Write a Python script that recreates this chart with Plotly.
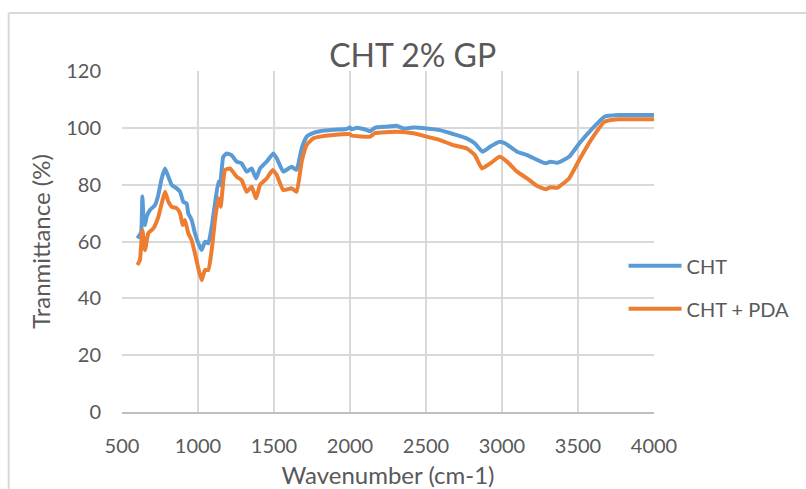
import plotly.graph_objects as go

# FTIR spectra: wavenumber (cm-1) and transmittance (%)
cht_wavenumber = [601, 625, 634, 642, 651, 662, 684, 717, 739, 761, 783, 805, 827, 860, 882,
                  903, 925, 936, 958, 980, 1002, 1024, 1046, 1068, 1090, 1112, 1134, 1145,
                  1166, 1189, 1221, 1254, 1287, 1320, 1353, 1382, 1408, 1452, 1495, 1518,
                  1561, 1616, 1649, 1682, 1715, 1760, 1803, 1890, 1978, 2000, 2010, 2044,
                  2100, 2132, 2164, 2241, 2307, 2351, 2417, 2504, 2592, 2680, 2767, 2822,
                  2872, 2923, 2985, 3022, 3099, 3165, 3232, 3287, 3320, 3364, 3441, 3508,
                  3585, 3674, 3762, 4000]
cht_transmittance = [61.1, 63.0, 75.8, 68.0, 65.8, 68.7, 71.1, 72.8, 76.4, 82.2, 85.7, 82.8,
                     79.9, 78.7, 77.5, 74.0, 73.4, 69.9, 67.6, 62.9, 59.4, 57.0, 59.9, 59.4,
                     65.2, 73.4, 81.0, 79.9, 89.8, 91.0, 90.4, 88.1, 87.5, 84.6, 85.7, 82.2,
                     85.7, 88.1, 91.0, 89.3, 84.6, 86.3, 85.2, 92.8, 96.9, 98.2, 98.8, 99.3,
                     99.6, 100.1, 99.5, 100.0, 99.4, 98.8, 100.0, 100.4, 100.7, 99.8, 100.1,
                     99.8, 99.2, 97.8, 96.3, 94.5, 91.6, 93.4, 95.1, 94.5, 91.6, 90.4, 88.7,
                     87.5, 88.1, 87.7, 89.8, 94.5, 99.2, 103.9, 104.5, 104.5]

pda_wavenumber = [601, 618, 634, 651, 673, 706, 739, 761, 783, 805, 827, 860, 882, 899, 914,
                  936, 958, 980, 1002, 1024, 1046, 1068, 1090, 1112, 1134, 1149, 1178, 1211,
                  1254, 1287, 1320, 1353, 1382, 1408, 1452, 1491, 1518, 1561, 1616, 1649,
                  1682, 1715, 1759, 1803, 1890, 2000, 2010, 2132, 2164, 2307, 2417, 2504,
                  2592, 2680, 2767, 2822, 2868, 2923, 2985, 3033, 3099, 3165, 3232, 3287,
                  3320, 3364, 3441, 3508, 3585, 3674, 3762, 4000]
pda_transmittance = [51.7, 53.5, 64.0, 57.0, 62.9, 64.6, 68.7, 73.4, 77.5, 74.0, 72.2, 71.7,
                     69.9, 65.8, 67.6, 62.9, 60.5, 55.8, 50.6, 46.4, 50.0, 50.0, 57.0, 67.6,
                     75.2, 72.2, 85.2, 85.7, 82.8, 81.6, 77.5, 79.3, 75.2, 79.9, 82.2, 85.2,
                     83.4, 78.1, 78.7, 77.5, 88.1, 94.0, 96.3, 96.9, 97.5, 97.8, 97.3, 96.9,
                     98.1, 98.6, 98.1, 96.9, 95.7, 93.9, 92.8, 90.4, 85.7, 87.5, 89.8, 88.1,
                     84.6, 82.2, 79.5, 78.4, 79.1, 78.9, 82.2, 88.7, 95.7, 102.1, 103.0, 103.0]

series_names = ["CHT", "CHT + PDA"]
x_ticks = [500, 1000, 1500, 2000, 2500, 3000, 3500, 4000]
y_ticks = [0, 20, 40, 60, 80, 100, 120]

FONT = "Lato"
TEXT = "#595959"
GRID = "#d9d9d9"

fig = go.Figure()
fig.add_trace(go.Scatter(x=cht_wavenumber, y=cht_transmittance, mode="lines",
                         name=series_names[0], legendgroup="a",
                         line=dict(color="#5B9BD5", width=4, shape="spline", smoothing=0.4)))
fig.add_trace(go.Scatter(x=pda_wavenumber, y=pda_transmittance, mode="lines",
                         name=series_names[1], legendgroup="b",
                         line=dict(color="#ED7D31", width=4, shape="spline", smoothing=0.4)))

# outer chart border (left and top edges)
fig.add_shape(type="line", xref="paper", yref="paper", x0=-0.213, x1=-0.213, y0=1.17, y1=-0.3,
              line=dict(color=GRID, width=2))
fig.add_shape(type="line", xref="paper", yref="paper", x0=-0.213, x1=1.3, y0=1.17, y1=1.17,
              line=dict(color=GRID, width=2))

fig.update_layout(
    width=806, height=489,
    margin=dict(l=122, r=151, t=71, b=77),
    paper_bgcolor="white", plot_bgcolor="white",
    font=dict(family=FONT, size=20, color=TEXT),
    title=dict(text="CHT 2% GP", font=dict(size=32, color=TEXT),
               x=0.512, xref="container", xanchor="center",
               y=1 - 56 / 489, yref="container", yanchor="middle"),
    xaxis=dict(range=[500, 4000], tickvals=x_ticks, showgrid=True, gridcolor=GRID, gridwidth=1.5,
               showline=True, linecolor="#bfbfbf", linewidth=1.5, zeroline=False,
               ticks="", ticklabelstandoff=15, automargin=False,
               title=dict(text="Wavenumber (cm-1)", standoff=21)),
    yaxis=dict(range=[0, 120], tickvals=y_ticks, showgrid=True, gridcolor=GRID, gridwidth=1.5,
               showline=False, zeroline=False, ticks="", ticklabelstandoff=20, automargin=False,
               title=dict(text="Tranmittance (%)", standoff=8)),
    legend=dict(x=0.941, y=0.486, xanchor="left", yanchor="top", bgcolor="rgba(0,0,0,0)",
                font=dict(size=20, color=TEXT), itemwidth=53, tracegroupgap=14,
                traceorder="grouped"),
)

fig.write_html("out.html")
